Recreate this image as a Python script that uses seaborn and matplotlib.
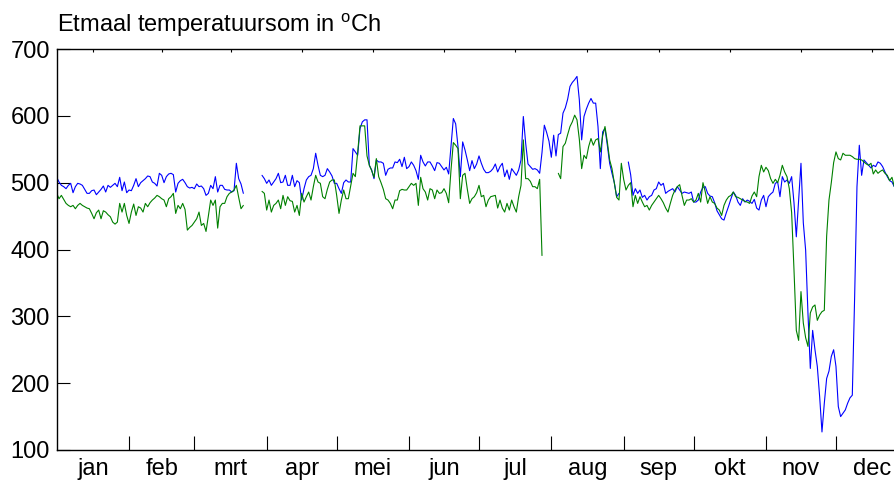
import matplotlib
matplotlib.use("Agg")
import matplotlib.pyplot as plt
import numpy as np
import pandas as pd
import seaborn as sns

N = None

months = ["jan", "feb", "mrt", "apr", "mei", "jun",
          "jul", "aug", "sep", "okt", "nov", "dec"]
month_days = [31, 28, 31, 30, 31, 30, 31, 31, 30, 31, 30, 31]
y_ticks = [100, 200, 300, 400, 500, 600, 700]

# daily values (day 0 = 1 jan), None = no data
blue = [
    508, 501, 496, 494, 491, 496, 499, 485, 494, 499,
    498, 496, 490, 484, 484, 488, 489, 482, 486, 490,
    495, 486, 496, 493, 496, 499, 494, 508, 488, 501,
    485, 489, 488, 496, 506, 494, 500, 503, 506, 510,
    509, 501, 499, 495, 514, 511, 500, 509, 513, 514,
    512, 486, 499, 503, 505, 500, 494, 492, 493, 491,
    498, 494, 495, 491, 481, 484, 496, 491, 509, 486,
    496, 496, 490, 489, 489, 486, 488, 529, 506, 498,
    484, N, N, N, N, N, N, N, 511, 506,
    499, 504, 496, 501, 506, 514, 500, 501, 511, 496,
    496, 511, 494, 503, 500, 474, 491, 504, 509, 511,
    521, 544, 526, 511, 509, 511, 521, 516, 510, 499,
    499, 491, 484, 500, 504, 501, 501, 551, 546, 541,
    581, 591, 594, 594, 526, 519, 506, 534, 531, 531,
    529, 511, 520, 522, 522, 531, 530, 535, 524, 538,
    521, 524, 531, 526, 518, 505, 541, 531, 525, 531,
    531, 525, 518, 530, 529, 524, 519, 523, 513, 554,
    596, 588, 554, 509, 561, 549, 534, 518, 533, 521,
    528, 540, 529, 520, 515, 515, 517, 521, 528, 516,
    524, 529, 509, 519, 505, 521, 516, 511, 519, 534,
    599, 559, 528, 524, 520, 521, 519, 514, 545, 586,
    575, 562, 538, 571, 540, 572, 574, 604, 612, 625,
    644, 650, 654, 659, 624, 564, 599, 610, 619, 626,
    619, 619, 584, 521, 576, 581, 556, 529, 514, 500,
    479, 484, N, N, N, 531, 512, 481, 491, 484,
    489, 478, 481, 474, 479, 481, 489, 491, 501, 496,
    499, 484, 487, 489, 491, 486, 494, 489, 484, 486,
    485, 484, 486, 471, 471, 474, 486, 493, 494, 484,
    480, 479, 470, 458, 452, 446, 444, 455, 465, 476,
    486, 481, 471, 466, 476, 471, 474, 472, 469, 475,
    462, 459, 474, 481, 464, 479, 483, 486, 499, 501,
    479, 509, 501, 504, 499, 509, 470, 419, 474, 529,
    440, 399, 304, 222, 279, 250, 225, 180, 127, 170,
    207, 218, 240, 250, 225, 165, 150, 155, 160, 170,
    178, 182, 329, 494, 556, 511, 534, 530, 526, 522,
    526, 524, 531, 529, 524, 516, 509, 503, 501, 494,
]

green = [
    484, 476, 481, 475, 469, 466, 464, 466, 461, 466,
    469, 466, 464, 462, 461, 454, 446, 455, 459, 446,
    458, 456, 452, 449, 441, 438, 441, 469, 456, 469,
    451, 439, 456, 468, 451, 464, 462, 456, 469, 464,
    470, 474, 477, 481, 479, 476, 474, 464, 476, 479,
    484, 454, 466, 461, 469, 460, 429, 433, 436, 441,
    446, 456, 436, 439, 427, 450, 474, 466, 474, 432,
    464, 469, 469, 479, 484, 486, 489, 496, 478, 461,
    466, N, N, N, N, N, N, N, 487, 484,
    459, 474, 456, 466, 469, 474, 461, 481, 466, 479,
    473, 472, 456, 466, 451, 484, 471, 479, 486, 474,
    494, 511, 501, 499, 479, 476, 490, 501, 504, 504,
    481, 454, 474, 489, 476, 476, 495, 514, 509, 545,
    585, 585, 585, 540, 526, 518, 508, 536, 509, 500,
    490, 476, 474, 469, 461, 474, 474, 488, 490, 489,
    489, 494, 499, 496, 499, 466, 508, 491, 486, 474,
    491, 489, 476, 489, 484, 485, 491, 484, 470, 519,
    560, 556, 551, 476, 511, 514, 490, 469, 476, 479,
    485, 496, 479, 481, 464, 474, 479, 480, 481, 462,
    474, 462, 456, 469, 459, 474, 464, 456, 479, 496,
    564, 506, 506, 502, 494, 494, 491, 505, 391, N,
    N, N, N, N, N, 514, 506, 554, 559, 572,
    584, 591, 601, 594, 565, 521, 541, 536, 554, 566,
    556, 564, 566, 546, 570, 584, 561, 534, 521, 499,
    478, 474, 529, 505, 489, 496, 500, 464, 481, 469,
    479, 471, 464, 466, 459, 466, 471, 476, 481, 476,
    470, 462, 456, 469, 481, 489, 494, 497, 481, 466,
    474, 474, 476, 471, 474, 484, 471, 500, 486, 469,
    479, 471, 469, 462, 459, 451, 466, 474, 479, 481,
    486, 479, 478, 476, 474, 472, 471, 469, 480, 486,
    479, 509, 526, 516, 523, 518, 506, 499, 505, 500,
    511, 526, 516, 509, 491, 455, 370, 279, 264, 337,
    290, 268, 255, 305, 314, 317, 294, 302, 307, 309,
    420, 474, 500, 530, 546, 536, 534, 544, 541, 541,
    541, 539, 536, 535, 535, 534, 531, 528, 526, 529,
    513, 519, 514, 517, 519, 514, 511, 503, 508, 494,
]


def to_frame(values, name):
    """Long table; a new unit starts after every gap so lines break there."""
    rows, unit, gap = [], 0, False
    for day, v in enumerate(values):
        if v is None:
            gap = True
            continue
        if gap:
            unit += 1
            gap = False
        rows.append({"day": day, "value": v, "series": name,
                     "unit": f"{name}{unit}"})
    return pd.DataFrame(rows)


df = pd.concat([to_frame(blue, "blue"), to_frame(green, "green")],
               ignore_index=True)

sns.set_style("ticks")
plt.rcParams["font.family"] = ["Liberation Sans", "DejaVu Sans"]
plt.rcParams["mathtext.fontset"] = "custom"
plt.rcParams["mathtext.rm"] = "Liberation Sans"
plt.rcParams["text.color"] = "black"
plt.rcParams["xtick.color"] = "black"
plt.rcParams["ytick.color"] = "black"
plt.rcParams["axes.labelcolor"] = "black"

fig = plt.figure(figsize=(8.95, 4.82), dpi=100)
# axes runs past the right edge of the figure, like the reference
ax = fig.add_axes([56.7 / 895, 32 / 482, 851.6 / 895, 401 / 482])

sns.lineplot(data=df, x="day", y="value", hue="series", units="unit",
             estimator=None, palette={"blue": "#0000ff", "green": "#008000"},
             linewidth=0.8, legend=False, ax=ax)

bounds = np.cumsum(month_days)
mids = bounds - np.array(month_days) / 2

ax.set_xlim(0, 365)
ax.set_ylim(100, 700)
ax.set_yticks(y_ticks)
ax.set_xticks(mids, labels=months)
ax.set_xticks(bounds[:-1], minor=True)
ax.tick_params(axis="x", which="major", bottom=False, top=True,
               direction="in", length=2.5, width=0.8, labelsize=17, pad=6,
               colors="black")
ax.tick_params(axis="x", which="minor", bottom=True, top=False,
               direction="in", length=10, width=0.8, colors="black")
ax.tick_params(axis="y", direction="in", length=9.5, width=0.8,
               labelsize=17, pad=5, colors="black")
ax.set_xlabel("")
ax.set_ylabel("")
for s in ax.spines.values():
    s.set_color("black")
    s.set_linewidth(1.0)

ax.set_title(r"Etmaal temperatuursom in $^{\mathrm{o}}$Ch", loc="left",
             fontsize=17, pad=12.5, color="black")

fig.savefig("out.png", dpi=100)
